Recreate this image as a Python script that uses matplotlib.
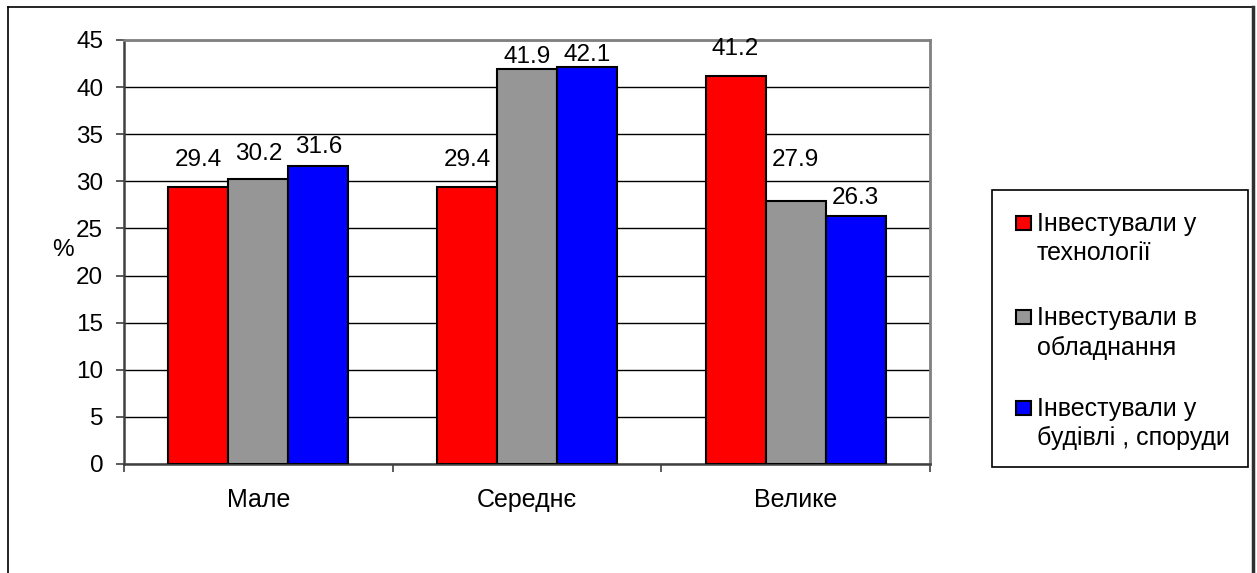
import matplotlib
matplotlib.use("Agg")
import matplotlib.pyplot as plt
import numpy as np
from matplotlib.patches import Rectangle
from matplotlib.lines import Line2D

plt.rcParams['font.family'] = ['Liberation Sans', 'DejaVu Sans']

categories = ['Мале', 'Середнє', 'Велике']
series_names = ['Інвестували у\nтехнології', 'Інвестували в\nобладнання', 'Інвестували у\nбудівлі , споруди']
tech = [29.4, 29.4, 41.2]
equip = [30.2, 41.9, 27.9]
build = [31.6, 42.1, 26.3]
y_ticks = [0, 5, 10, 15, 20, 25, 30, 35, 40, 45]

colors = ['#FF0000', '#969696', '#0000FF']
# label vertical gaps (points) as nudged in the original: [series][category]
label_offsets = [[14.4, 14.4, 14.4], [13.7, 3.6, 25.0], [8.6, 3.6, 8.0]]

FS = 17.5
FS_BIG = 18
W, H = 1257, 573
fig = plt.figure(figsize=(W / 100, H / 100), dpi=100)

def fx(x):
    return x / W

def fy(y):
    return 1 - y / H

ax = fig.add_axes([fx(124), fy(464), fx(930) - fx(124), fy(40) - fy(464)])

x = np.arange(len(categories))
bw = 0.2235
series = [tech, equip, build]
for i, vals in enumerate(series):
    bars = ax.bar(x + (i - 1) * bw, vals, width=bw, color=colors[i],
                  edgecolor='black', linewidth=1.5, zorder=3)
    for j, (b, v) in enumerate(zip(bars, vals)):
        ax.annotate(f'{v:.1f}', xy=(b.get_x() + b.get_width() / 2, v),
                    xytext=(0, label_offsets[i][j] - 3), textcoords='offset points',
                    ha='center', va='bottom', fontsize=FS, zorder=5,
                    annotation_clip=False)

ax.set_xlim(-0.5, 2.5)
ax.set_ylim(0, 45)
ax.set_yticks(y_ticks)
ax.set_yticklabels([str(t) for t in y_ticks], fontsize=FS)
ax.yaxis.grid(True, color='black', linewidth=1.0, zorder=0)
ax.set_axisbelow(True)

ax.set_xticks([-0.5, 0.5, 1.5, 2.5])
ax.set_xticklabels([])
ax.set_xticks(x, minor=True)
ax.set_xticklabels(categories, minor=True, fontsize=FS_BIG)
ax.tick_params(axis='x', which='minor', length=0, pad=17)
ax.tick_params(axis='x', which='major', length=6, width=1.2, color='#404040', direction='out')
ax.tick_params(axis='y', length=6, width=1.2, color='#404040', direction='out', pad=9)

for s in ['top', 'right']:
    ax.spines[s].set_color('#808080')
    ax.spines[s].set_linewidth(2)
ax.spines['left'].set_color('#404040')
ax.spines['left'].set_linewidth(1.8)
ax.spines['bottom'].set_color('#404040')
ax.spines['bottom'].set_linewidth(1.8)

fig.text(fx(63), fy(250), '%', fontsize=FS, ha='center', va='center')

# outer chart frame
fig.add_artist(Line2D([fx(8), fx(8)], [fy(7), -0.05], color='black', linewidth=1.2, transform=fig.transFigure))
fig.add_artist(Line2D([fx(8), fx(1253)], [fy(7), fy(7)], color='black', linewidth=1.2, transform=fig.transFigure))
fig.add_artist(Line2D([fx(1253), fx(1253)], [fy(7), -0.05], color='#303030', linewidth=2.5, transform=fig.transFigure))

# legend (drawn manually)
fig.add_artist(Rectangle((fx(992), fy(467)), fx(1248) - fx(992), fy(190) - fy(467),
                         transform=fig.transFigure, facecolor='white', edgecolor='black', linewidth=1.2))
entry_centers = [223, 317, 408]
for i, name in enumerate(series_names):
    yc = entry_centers[i]
    fig.add_artist(Rectangle((fx(1016), fy(yc + 7)), fx(1031) - fx(1016), fy(yc - 7) - fy(yc + 7),
                             transform=fig.transFigure, facecolor=colors[i], edgecolor='black', linewidth=1.5))
    fig.text(fx(1037), fy(yc + 9 + 28.5), name, fontsize=FS_BIG, ha='left', va='baseline', linespacing=1.3)

fig.savefig('out.png', dpi=100)
